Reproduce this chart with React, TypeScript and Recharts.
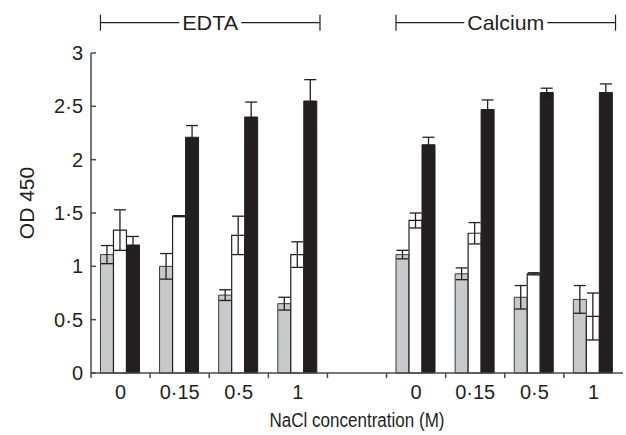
import React from 'react';
import { BarChart, Bar, XAxis, YAxis, ErrorBar } from 'recharts';

// group names and NaCl concentrations (M)
const groups = ['EDTA', 'Calcium'];
const concentrations = ['0', '0·15', '0·5', '1'];

// grey bars
const greyEdta = [1.11, 1.0, 0.73, 0.65];
const greyEdtaErr = [0.085, 0.12, 0.05, 0.06];
const greyCalcium = [1.11, 0.93, 0.71, 0.69];
const greyCalciumErr = [0.04, 0.055, 0.11, 0.13];

// white bars
const whiteEdta = [1.34, 1.47, 1.29, 1.11];
const whiteEdtaErr = [0.19, 0.005, 0.18, 0.12];
const whiteCalcium = [1.43, 1.31, 0.93, 0.53];
const whiteCalciumErr = [0.07, 0.1, 0.01, 0.22];

// black bars
const blackEdta = [1.2, 2.21, 2.4, 2.55];
const blackEdtaErr = [0.08, 0.11, 0.14, 0.2];
const blackCalcium = [2.14, 2.47, 2.63, 2.63];
const blackCalciumErr = [0.07, 0.09, 0.04, 0.08];

const yTicks = [0, 0.5, 1, 1.5, 2, 2.5, 3];

const rowsFor = (
  group: string,
  grey: number[], greyErr: number[],
  white: number[], whiteErr: number[],
  black: number[], blackErr: number[]
) =>
  concentrations.map((c, i) => ({
    key: `${group}-${c}`,
    label: c,
    grey: grey[i],
    greyErr: greyErr[i],
    white: white[i],
    whiteErr: whiteErr[i],
    black: black[i],
    blackErr: blackErr[i],
  }));

const data = [
  ...rowsFor(groups[0], greyEdta, greyEdtaErr, whiteEdta, whiteEdtaErr, blackEdta, blackEdtaErr),
  { key: 'gap', label: '' },
  ...rowsFor(groups[1], greyCalcium, greyCalciumErr, whiteCalcium, whiteCalciumErr, blackCalcium, blackCalciumErr),
];

const W = 626;
const H = 435;
const MARGIN = { top: 53, right: 3, left: 0, bottom: 0 };
const Y_AXIS_W = 91;
const X_AXIS_H = 62;
const PLOT_LEFT = MARGIN.left + Y_AXIS_W;
const PLOT_RIGHT = W - MARGIN.right;
const BAND = (PLOT_RIGHT - PLOT_LEFT) / data.length;
const GAP = 0.16;

const FONT = "'Liberation Sans', Arial, Helvetica, sans-serif";
const INK = '#231f20';
const AXIS = '#4a4a4a';

const labelOf = (key: string) => data.find(d => d.key === key)?.label ?? '';

const XTick = (props: any) => {
  const { x, y, payload } = props;
  const left = x - BAND / 2;
  return (
    <g>
      <line x1={left} x2={left} y1={y} y2={y + 5} stroke={AXIS} strokeWidth={1.5} />
      <text x={x} y={y + 25.5} textAnchor="middle" fontSize={20} fontFamily={FONT} fill={INK}>
        {labelOf(payload.value)}
      </text>
    </g>
  );
};

const YTick = (props: any) => {
  const { x, y, payload } = props;
  return (
    <g>
      <line x1={x} x2={x + 5} y1={y} y2={y} stroke={AXIS} strokeWidth={1.5} />
      <text x={x - 8} y={y + 7} textAnchor="end" fontSize={20} fontFamily={FONT} fill={INK}>
        {String(payload.value).replace('.', '·')}
      </text>
    </g>
  );
};

// bracket spans the bars of a group (first bar start to last bar end)
const bracketSpan = (firstIndex: number, lastIndex: number) => ({
  x1: PLOT_LEFT + BAND * firstIndex + BAND * GAP,
  x2: PLOT_LEFT + BAND * (lastIndex + 1) - BAND * GAP + 2,
});

const Bracket = ({ x1, x2, text, textW }: { x1: number; x2: number; text: string; textW: number }) => {
  const cx = (x1 + x2) / 2;
  const y = 22.7;
  const half = textW / 2 + 3;
  return (
    <g>
      <line x1={x1} x2={cx - half} y1={y} y2={y} stroke={INK} strokeWidth={1.2} />
      <line x1={cx + half} x2={x2} y1={y} y2={y} stroke={INK} strokeWidth={1.2} />
      <line x1={x1} x2={x1} y1={y - 8} y2={y + 8} stroke={INK} strokeWidth={1.2} />
      <line x1={x2} x2={x2} y1={y - 8} y2={y + 8} stroke={INK} strokeWidth={1.2} />
      <text
        x={cx}
        y={y + 7.5}
        textAnchor="middle"
        fontSize={21}
        fontFamily={FONT}
        fill={INK}
        textLength={textW}
        lengthAdjust="spacingAndGlyphs"
      >
        {text}
      </text>
    </g>
  );
};

export default function App() {
  const edta = bracketSpan(0, 3);
  const calcium = bracketSpan(5, 8);
  return (
    <div style={{ position: 'absolute', left: 0, top: 0, width: W, height: H, background: '#fff' }}>
      <BarChart
        width={W}
        height={H}
        data={data}
        margin={MARGIN}
        barCategoryGap={`${GAP * 100}%`}
        barGap={0}
      >
        <XAxis
          dataKey="key"
          height={X_AXIS_H}
          interval={0}
          tickSize={0}
          tickMargin={0}
          tickLine={false}
          tick={<XTick />}
          stroke={AXIS}
          strokeWidth={1.5}
        />
        <YAxis
          width={Y_AXIS_W}
          domain={[0, 3]}
          ticks={yTicks}
          interval={0}
          tickSize={0}
          tickMargin={0}
          tickLine={false}
          tick={<YTick />}
          stroke={AXIS}
          strokeWidth={1.5}
        />
        <Bar dataKey="grey" fill="#c8c9cb" stroke="#3a3a3a" strokeWidth={1} isAnimationActive={false}>
          <ErrorBar dataKey="greyErr" width={6} stroke={INK} strokeWidth={1.3} />
        </Bar>
        <Bar dataKey="white" fill="#ffffff" stroke={INK} strokeWidth={1.2} isAnimationActive={false}>
          <ErrorBar dataKey="whiteErr" width={6} stroke={INK} strokeWidth={1.3} />
        </Bar>
        <Bar dataKey="black" fill={INK} stroke={INK} strokeWidth={1} isAnimationActive={false}>
          <ErrorBar dataKey="blackErr" width={6} stroke={INK} strokeWidth={1.3} />
        </Bar>
      </BarChart>
      <svg
        width={W}
        height={H}
        style={{ position: 'absolute', left: 0, top: 0, pointerEvents: 'none' }}
      >
        <Bracket x1={edta.x1} x2={edta.x2} text={groups[0]} textW={56} />
        <Bracket x1={calcium.x1} x2={calcium.x2} text={groups[1]} textW={77} />
        <text
          transform="translate(33.5, 203) rotate(-90)"
          textAnchor="middle"
          fontSize={21}
          fontFamily={FONT}
          fill={INK}
        >
          OD 450
        </text>
        <text
          x={(PLOT_LEFT + PLOT_RIGHT) / 2}
          y={426.7}
          textAnchor="middle"
          fontSize={20}
          fontFamily={FONT}
          fill={INK}
          textLength={175}
          lengthAdjust="spacingAndGlyphs"
        >
          NaCl concentration (M)
        </text>
      </svg>
    </div>
  );
}
